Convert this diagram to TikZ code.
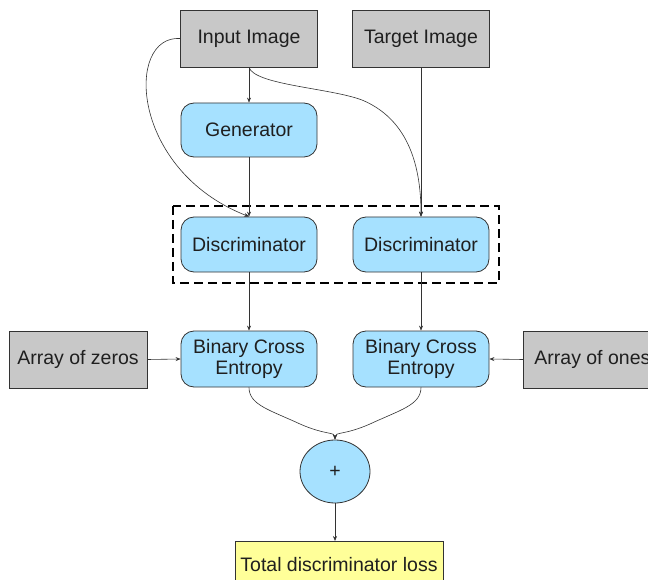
\documentclass[tikz,border=0pt]{standalone}
\usepackage{fontspec}
\setmainfont{Liberation Sans}
\usetikzlibrary{shapes.geometric,arrows.meta}
\definecolor{boxgray}{HTML}{C8C8C8}
\definecolor{procblue}{HTML}{A6E1FF}
\definecolor{lossyellow}{HTML}{FFFF99}
\definecolor{edgegray}{HTML}{333333}
\begin{document}
\begin{tikzpicture}[x=1pt,y=-1pt,
  every node/.style={font=\fontsize{19.5}{21}\selectfont, text=black!88, inner sep=0pt},
  databox/.style={draw=edgegray, line width=0.8pt, fill=boxgray, minimum width=137pt, minimum height=57pt},
  procbox/.style={draw=edgegray, line width=0.8pt, fill=procblue, rounded corners=13pt, minimum width=136pt, minimum height=55pt, align=center},
  sumnode/.style={draw=edgegray, line width=0.8pt, fill=procblue, ellipse, minimum width=70pt, minimum height=63pt},
  lossbox/.style={draw=edgegray, line width=0.8pt, fill=lossyellow, minimum width=208pt, minimum height=46pt},
  link/.style={draw=edgegray, line width=0.6pt, -{Stealth[length=5pt,width=4pt]}},
  group/.style={draw=black, line width=2.2pt, dash pattern=on 9pt off 5pt}
]
\useasboundingbox (0,0) rectangle (648,580);
\clip (0,0) rectangle (648,580);

% inputs
\node[databox] (input) at (249,38.5) {Input Image};
\node[databox] (target) at (421,38.5) {Target Image};

% generator
\node[procbox, minimum height=54pt] (gen) at (249,130) {Generator};

% discriminator pair inside dashed group
\node[procbox] (discL) at (249,244.5) {Discriminator};
\node[procbox] (discR) at (421,244.5) {Discriminator};
\draw[group] (173,206) rectangle (499,283);

% losses
\node[procbox, minimum height=56pt] (bceL) at (249,359) {Binary Cross\\Entropy};
\node[procbox, minimum height=56pt] (bceR) at (421,359) {Binary Cross\\Entropy};
\node[databox, minimum width=138pt] (zeros) at (78,359.5) {Array of zeros};
\node[databox, minimum width=138pt, anchor=west] (ones) at (523,359.5) {Array of ones};

% sum and total
\node[sumnode] (plus) at (335,471.5) {+};
\node[lossbox, anchor=north] (total) at (339,541) {Total discriminator loss};

% connectors
\draw[link] (input.south) -- (gen.north);
\draw[link] (gen.south) -- (discL.north);
\draw[link] (input.west) .. controls (125,35) and (130,170) .. (discL.north);
\draw[link] (input.south) .. controls (255,85) and (330,88) .. (362,100)
  .. controls (405,118) and (421,160) .. (discR.north);
\draw[link] (target.south) -- (discR.north);
\draw[link] (discL.south) -- (bceL.north);
\draw[link] (discR.south) -- (bceR.north);
\draw[link] (zeros.east) -- (bceL.west);
\draw[link] (ones.west) -- (bceR.east);
\draw[link] (bceL.south) .. controls (249,405) and (270,410) .. (300,424)
  .. controls (325,435) and (335,432) .. (plus.north);
\draw[link] (bceR.south) .. controls (421,405) and (400,410) .. (370,424)
  .. controls (345,435) and (335,432) .. (plus.north);
\draw[link] (plus.south) -- (plus.south |- total.north);
\end{tikzpicture}
\end{document}
